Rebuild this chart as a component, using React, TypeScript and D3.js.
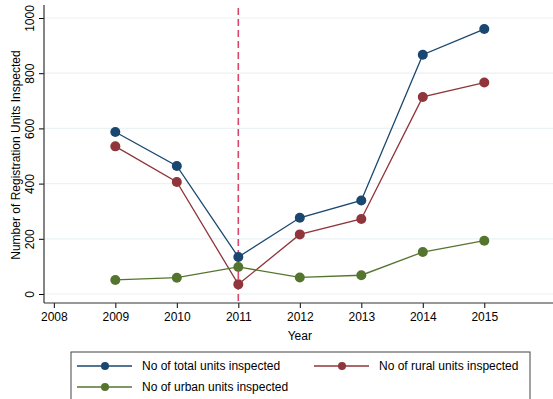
import { useEffect, useRef } from "react";
import * as d3 from "d3";

// data
const years = [2009, 2010, 2011, 2012, 2013, 2014, 2015];
const totalUnits = [587, 464, 134, 276, 339, 867, 960];
const ruralUnits = [535, 406, 35, 216, 272, 714, 766];
const urbanUnits = [51, 59, 98, 60, 68, 152, 193];
const xTicks = [2008, 2009, 2010, 2011, 2012, 2013, 2014, 2015];
const yTicks = [0, 200, 400, 600, 800, 1000];
const markerYear = 2011;

const seriesNames = [
  "No of total units inspected",
  "No of rural units inspected",
  "No of urban units inspected",
];
const colors = ["#1a476f", "#90353b", "#55752f"];

export default function App() {
  const ref = useRef<SVGSVGElement>(null);

  useEffect(() => {
    const svg = d3.select(ref.current);
    svg.selectAll("*").remove();
    const font = "'Liberation Sans', Arial, sans-serif";

    const x = d3.scaleLinear().domain([2007.84, 2016.15]).range([44, 555]);
    const y = d3.scaleLinear().domain([0, 1000]).range([294, 18]);
    const bottom = 303;
    const top = 5;

    // gridlines
    svg
      .append("g")
      .selectAll("line")
      .data(yTicks)
      .enter()
      .append("line")
      .attr("x1", 44)
      .attr("x2", 553)
      .attr("y1", (d) => y(d))
      .attr("y2", (d) => y(d))
      .attr("stroke", "#eaf2f3")
      .attr("stroke-width", 1.2);

    // y axis
    const yAxis = svg
      .append("g")
      .attr("transform", "translate(44,0)")
      .call(
        d3
          .axisLeft(y)
          .tickValues(yTicks)
          .tickFormat(d3.format("d"))
          .tickSize(5)
          .tickSizeOuter(0)
      );
    yAxis.select(".domain").remove();
    yAxis.selectAll(".tick line").attr("stroke", "#000");
    yAxis
      .selectAll(".tick text")
      .attr("transform", "rotate(-90)")
      .attr("x", 0)
      .attr("y", -10)
      .attr("text-anchor", "middle")
      .attr("dy", "0")
      .style("font-family", font)
      .style("font-size", "12px")
      .attr("fill", "#000");
    svg
      .append("line")
      .attr("x1", 44)
      .attr("x2", 44)
      .attr("y1", top)
      .attr("y2", bottom)
      .attr("stroke", "#333")
      .attr("stroke-width", 1.2);

    // x axis
    const xAxis = svg
      .append("g")
      .attr("transform", `translate(0,${bottom})`)
      .call(
        d3
          .axisBottom(x)
          .tickValues(xTicks)
          .tickFormat(d3.format("d"))
          .tickSize(5)
          .tickPadding(4)
          .tickSizeOuter(0)
      );
    xAxis.select(".domain").remove();
    xAxis.selectAll(".tick line").attr("stroke", "#000");
    xAxis
      .selectAll(".tick text")
      .style("font-family", font)
      .style("font-size", "12px")
      .attr("fill", "#000");
    svg
      .append("line")
      .attr("x1", 44)
      .attr("x2", 553)
      .attr("y1", bottom)
      .attr("y2", bottom)
      .attr("stroke", "#333")
      .attr("stroke-width", 1.2);

    // axis titles
    svg
      .append("text")
      .attr("transform", "translate(20,155) rotate(-90)")
      .attr("text-anchor", "middle")
      .style("font-family", font)
      .style("font-size", "12px")
      .text("Number of Registration Units Inspected");
    svg
      .append("text")
      .attr("x", x(2012))
      .attr("y", 340)
      .attr("text-anchor", "middle")
      .style("font-family", font)
      .style("font-size", "12px")
      .text("Year");

    // dashed reference line
    svg
      .append("line")
      .attr("x1", x(markerYear))
      .attr("x2", x(markerYear))
      .attr("y1", 8)
      .attr("y2", bottom)
      .attr("stroke", "#d8476c")
      .attr("stroke-width", 1.6)
      .attr("stroke-dasharray", "7,4");

    // series
    const allSeries = [totalUnits, ruralUnits, urbanUnits];
    const line = d3
      .line<number>()
      .x((_, i) => x(years[i]))
      .y((d) => y(d));

    allSeries.forEach((values, k) => {
      svg
        .append("path")
        .datum(values)
        .attr("d", line)
        .attr("fill", "none")
        .attr("stroke", colors[k])
        .attr("stroke-width", 1.3);
      svg
        .append("g")
        .selectAll("circle")
        .data(values)
        .enter()
        .append("circle")
        .attr("cx", (_, i) => x(years[i]))
        .attr("cy", (d) => y(d))
        .attr("r", 5)
        .attr("fill", colors[k]);
    });

    // legend
    const legend = svg.append("g");
    legend
      .append("rect")
      .attr("x", 71)
      .attr("y", 352)
      .attr("width", 459)
      .attr("height", 60)
      .attr("fill", "#fff")
      .attr("stroke", "#444")
      .attr("stroke-width", 1);
    const legendPos = [
      { x: 77, y: 366 },
      { x: 314, y: 366 },
      { x: 77, y: 387 },
    ];
    seriesNames.forEach((name, k) => {
      const p = legendPos[k];
      legend
        .append("line")
        .attr("x1", p.x)
        .attr("x2", p.x + 55)
        .attr("y1", p.y)
        .attr("y2", p.y)
        .attr("stroke", colors[k])
        .attr("stroke-width", 1.3);
      legend
        .append("circle")
        .attr("cx", p.x + 28)
        .attr("cy", p.y)
        .attr("r", 4)
        .attr("fill", colors[k]);
      legend
        .append("text")
        .attr("x", p.x + 65)
        .attr("y", p.y)
        .attr("dy", "0.35em")
        .style("font-family", font)
        .style("font-size", "12px")
        .text(name);
    });
  }, []);

  return (
    <svg
      ref={ref}
      width={553}
      height={399}
      style={{ position: "absolute", left: 0, top: 0, background: "#fff" }}
    />
  );
}
